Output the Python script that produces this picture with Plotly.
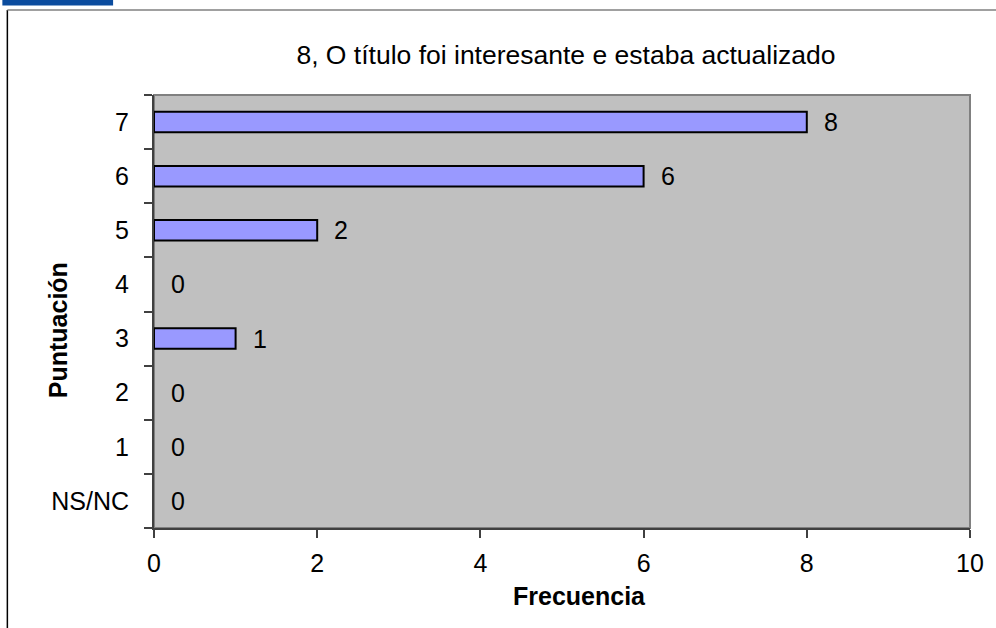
import plotly.graph_objects as go

categories = ["NS/NC", "1", "2", "3", "4", "5", "6", "7"]
values = [0, 0, 0, 1, 0, 2, 6, 8]
x_ticks = [0, 2, 4, 6, 8, 10]

title_text = "8, O título foi interesante e estaba actualizado"
x_title = "Frecuencia"
y_title = "Puntuación"

FONT = "Liberation Sans, Arial, sans-serif"

W, H = 996, 628
L, R, T, B = 154, 24, 95, 100
pw, ph = W - L - R, H - T - B


def px_x(p):
    return (p - L) / pw


def px_y(p):
    return (H - B - p) / ph


fig = go.Figure()
fig.add_trace(go.Bar(
    x=values, y=categories, orientation="h",
    marker=dict(color="#9999FF",
                line=dict(color="#000000", width=[2 if v else 0 for v in values])),
    width=0.38, hoverinfo="skip",
))

for c, v in zip(categories, values):
    fig.add_annotation(x=v, y=c, text=str(v), showarrow=False,
                       xanchor="left", xshift=15, yshift=0,
                       font=dict(family=FONT, size=25, color="#000000"))

# axis titles placed as annotations
fig.add_annotation(xref="paper", yref="paper", x=px_x(58), y=px_y(330),
                   text="<b>" + y_title + "</b>", textangle=-90, showarrow=False,
                   xanchor="center", yanchor="middle",
                   font=dict(family=FONT, size=25, color="#000000"))
fig.add_annotation(xref="paper", yref="paper", x=px_x(581), y=px_y(596),
                   text="<b>" + x_title + "</b>", showarrow=False,
                   xanchor="center", yanchor="middle",
                   font=dict(family=FONT, size=25, color="#000000"))

shapes = [
    dict(type="rect", xref="paper", yref="paper", x0=0, x1=1, y0=0, y1=1,
         line=dict(color="#808080", width=2), fillcolor="rgba(0,0,0,0)", layer="below"),
    dict(type="line", xref="paper", yref="paper", x0=px_x(7), x1=px_x(7), y0=px_y(10), y1=px_y(640),
         line=dict(color="#000000", width=1.5)),
    dict(type="line", xref="paper", yref="paper", x0=px_x(7), x1=px_x(1000), y0=px_y(10), y1=px_y(10),
         line=dict(color="#808080", width=1.5)),
    dict(type="rect", xref="paper", yref="paper", x0=px_x(2), x1=px_x(113), y0=px_y(5.5), y1=px_y(-2),
         line=dict(width=0), fillcolor="#0B4C9E"),
]

fig.update_layout(
    width=W, height=H,
    margin=dict(l=L, r=R, t=T, b=B),
    paper_bgcolor="#FFFFFF",
    plot_bgcolor="#C0C0C0",
    showlegend=False,
    shapes=shapes,
    font=dict(family=FONT, size=25, color="#000000"),
    title=dict(text=title_text, x=px_x(567), xref="paper", xanchor="center",
               y=1 - 55 / H, yanchor="middle",
               font=dict(family=FONT, size=26.5, color="#000000")),
)

fig.update_xaxes(
    range=[0, 10], tickvals=x_ticks, ticktext=[str(t) for t in x_ticks],
    showgrid=False, zeroline=False,
    showline=True, linecolor="#404040", linewidth=2,
    ticks="outside", ticklen=8, tickcolor="#404040", tickwidth=1.5,
    tickfont=dict(family=FONT, size=25, color="#000000"),
    ticklabelstandoff=4,
)

fig.update_yaxes(
    type="category", categoryorder="array", categoryarray=categories,
    range=[-0.5, len(categories) - 0.5],
    tickson="boundaries",
    showgrid=False, zeroline=False,
    showline=True, linecolor="#404040", linewidth=2,
    ticks="outside", ticklen=8, tickcolor="#404040", tickwidth=1.5,
    tickfont=dict(family=FONT, size=25, color="#000000"),
    ticklabelstandoff=18,
)

fig.write_html("out.html", config={"displayModeBar": False},
               post_script="document.body.style.margin='0';")
